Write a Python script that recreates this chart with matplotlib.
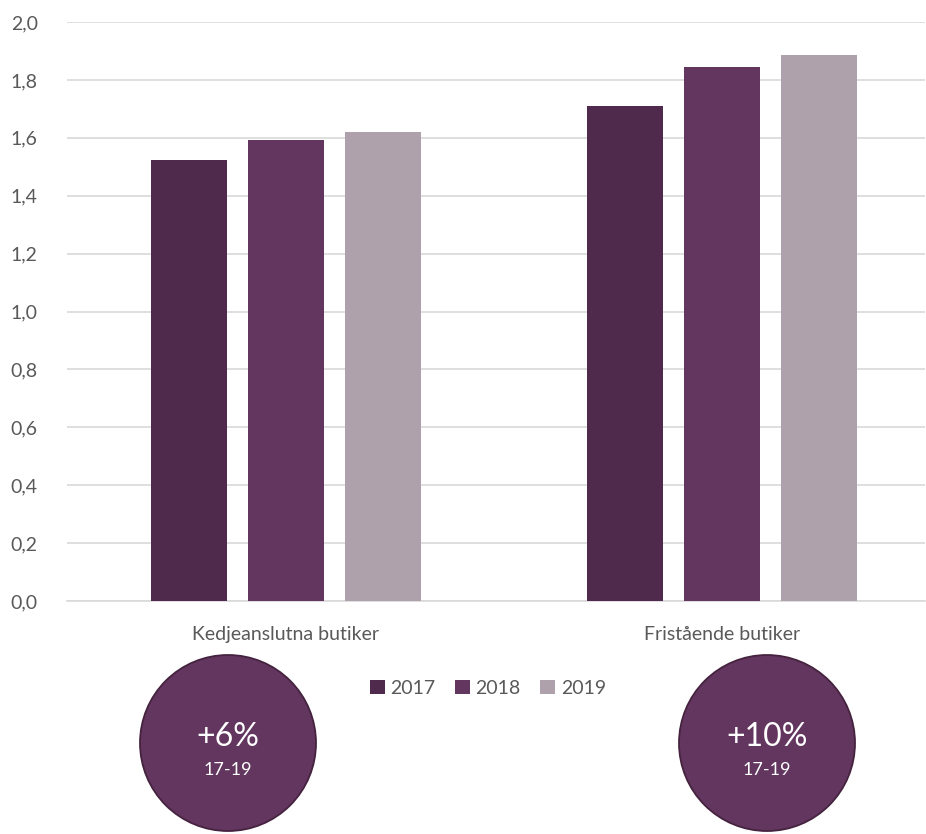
import matplotlib
matplotlib.use("Agg")
import matplotlib.pyplot as plt
import numpy as np
from matplotlib.patches import Circle

categories = ["Kedjeanslutna butiker", "Fristående butiker"]
years = ["2017", "2018", "2019"]
values = {
    "2017": [1.523, 1.71],
    "2018": [1.592, 1.845],
    "2019": [1.620, 1.886],
}
colors = {"2017": "#4F2A4D", "2018": "#62365F", "2019": "#AEA1AC"}
growth = ["+6%", "+10%"]
growth_period = "17-19"
yticks = [0.0, 0.2, 0.4, 0.6, 0.8, 1.0, 1.2, 1.4, 1.6, 1.8, 2.0]

plt.rcParams['font.family'] = ['Lato', 'DejaVu Sans']

W, H = 926, 834
fig = plt.figure(figsize=(W / 100, H / 100), dpi=100)
ax = fig.add_axes([67 / W, (H - 601) / H, (925 - 67) / W, (601 - 22) / H])

x = np.arange(len(categories))
bw = 0.174
step = 0.2225
for i, y in enumerate(years):
    ax.bar(x + (i - 1) * step, values[y], width=bw, color=colors[y], label=y, zorder=3)

ax.set_xlim(-0.502, 1.466)
ax.set_ylim(0, 2.0)
ax.set_yticks(yticks)
ax.set_yticklabels([f"{t:.1f}".replace(".", ",") for t in yticks])
ax.yaxis.grid(True, color="#D9D9D9", linewidth=1.2, zorder=0)
ax.set_axisbelow(True)
for s in ["top", "right", "left"]:
    ax.spines[s].set_visible(False)
ax.spines["bottom"].set_color("#D9D9D9")
ax.spines["bottom"].set_linewidth(1.2)
ax.tick_params(axis="y", length=0, labelsize=14, labelcolor="#595959", pad=21)
ax.tick_params(axis="x", length=0, labelsize=14, labelcolor="#595959", pad=18)
ax.set_xticks(x)
ax.set_xticklabels(categories)

leg = fig.legend(loc="center", bbox_to_anchor=(488 / W, 1 - 688 / H), ncol=3, frameon=False,
                 fontsize=14, handlelength=0.75, handleheight=0.75, handletextpad=0.3,
                 columnspacing=1.0, labelcolor="#595959")

# growth circles
circ_ax = fig.add_axes([0, 0, 1, 1], zorder=5)
circ_ax.set_xlim(0, W)
circ_ax.set_ylim(H, 0)
circ_ax.axis("off")
centers = [(228, 743), (767, 743)]
for (cx, cy), g in zip(centers, growth):
    circ_ax.add_patch(Circle((cx, cy), 88, facecolor="#62365F", edgecolor="#45233F", linewidth=1.3))
    circ_ax.text(cx, cy - 6, g, color="white", fontsize=23, ha="center", va="center")
    circ_ax.text(cx, cy + 27, growth_period, color="white", fontsize=13, ha="center", va="center")

fig.savefig("out.png", dpi=100)
